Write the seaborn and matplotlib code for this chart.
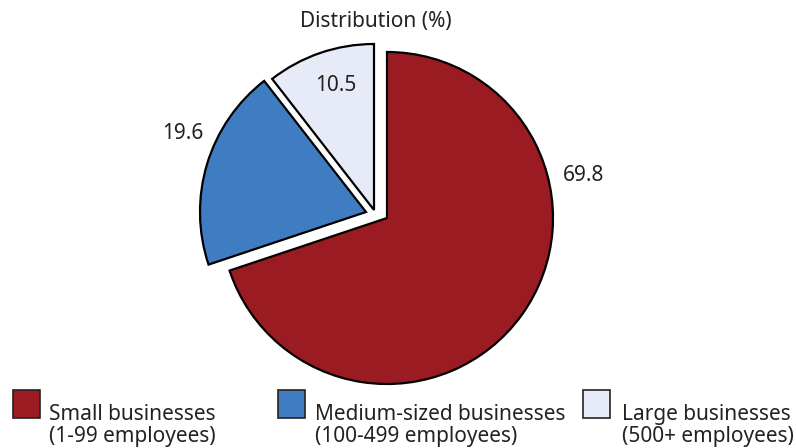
import matplotlib
matplotlib.use("Agg")
import matplotlib.pyplot as plt
from matplotlib.patches import Rectangle
import seaborn as sns

# Data
categories = ["Small businesses", "Medium-sized businesses", "Large businesses"]
subtitles = ["(1-99 employees)", "(100-499 employees)", "(500+ employees)"]
shares = [69.8, 19.6, 10.5]
title = "Distribution (%)"

# Styling
colors = ["#9B1B23", "#3F7CC1", "#E7EBF7"]
text_color = "#222222"

sns.set_theme(style="white")
plt.rcParams["font.family"] = ["Noto Sans", "DejaVu Sans"]
FS = 15

W, H = 796, 448
fig = plt.figure(figsize=(W / 100, H / 100), dpi=100)
ax = fig.add_axes([0, 0, 1, 1])
ax.set_xlim(0, W)
ax.set_ylim(0, H)
ax.set_aspect("equal")
ax.axis("off")

cx, cy, r = 387, H - 218, 166
wedges, _ = ax.pie(
    shares,
    colors=colors,
    startangle=90,
    counterclock=False,
    center=(cx, cy),
    radius=r,
    wedgeprops=dict(edgecolor="black", linewidth=1.6),
    frame=True,
)
ax.set_xlim(0, W)
ax.set_ylim(0, H)
ax.axis("off")

# pull the two smaller slices away from the main one
offsets = [(0, 0), (-21, 6), (-13, 8)]
for w, (dx, dy) in zip(wedges, offsets):
    w.set_center((cx + dx, cy + dy))

# value labels
label_pos = [(584, H - 175), (183, H - 133), (336, H - 85)]
for v, (x, y) in zip(shares, label_pos):
    ax.text(x, y, f"{v:.1f}", ha="center", va="center", fontsize=FS, color=text_color)

ax.text(376, H - 21, title, ha="center", va="center", fontsize=FS, color=text_color)

# legend row
sw_x = [13, 278, 583]
txt_x = [49, 315, 622]
for c, name, sub, sx, tx in zip(colors, categories, subtitles, sw_x, txt_x):
    ax.add_patch(Rectangle((sx, H - 418), 27, 28, facecolor=c, edgecolor="#222222",
                           linewidth=1.2))
    ax.text(tx, H - 420, name, ha="left", va="baseline", fontsize=FS, color=text_color)
    ax.text(tx, H - 442, sub, ha="left", va="baseline", fontsize=FS, color=text_color)

fig.savefig("out.png", dpi=100)
